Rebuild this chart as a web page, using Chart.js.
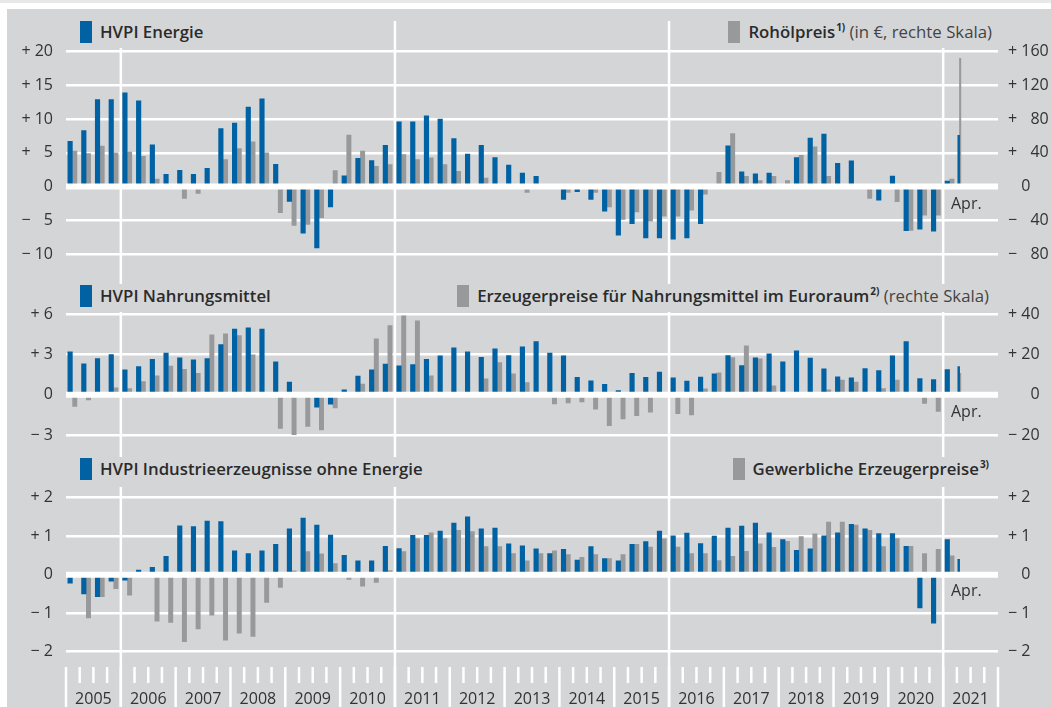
<!DOCTYPE html>
<html lang="de">
<head>
<meta charset="utf-8">
<title>HVPI und Erzeugerpreise</title>
<script src="https://cdn.jsdelivr.net/npm/chart.js@4.4.1/dist/chart.umd.min.js"></script>
<style>
  body { margin: 0; width: 1051px; height: 707px; overflow: hidden; background: #fff; font-family: "Open Sans", sans-serif; color: #333; }
  #strip { position: absolute; left: 0; top: 0; width: 1051px; height: 3px; background: #e8e8e9; }
  #panel { position: absolute; left: 7px; top: 9px; width: 1044px; height: 698px; background: #d4d5d7; }
  canvas { position: absolute; left: 0; }
  .leg { position: absolute; display: flex; align-items: flex-start; background: #d4d5d7; font-size: 16.8px; line-height: 22px; white-space: nowrap; padding: 1px 2px 0 2px; box-sizing: border-box; }
  .box { display: inline-block; width: 12px; height: 22px; margin-right: 8px; }
  .blue { background: #0061a3; }
  .gray { background: #98999b; }
  .name { font-weight: 600; color: #2b2b2b; }
  .note { color: #444; }
  sup { font-size: 10px; font-weight: 700; vertical-align: top; line-height: 10px; position: relative; top: 1px; margin-left: 1px; }
  .apr { position: absolute; left: 951px; font-size: 16px; line-height: 20px; color: #333; }
</style>
</head>
<body>
<div id="strip"></div>
<div id="panel"></div>

<canvas id="canvas_energie" width="1051" height="249" style="top:21px"></canvas>
<canvas id="canvas_nahrung" width="1051" height="180" style="top:270px"></canvas>
<canvas id="canvas_industrie" width="1051" height="257" style="top:450px"></canvas>

<div class="leg" style="left:78px; top:20px; height:28px"><span class="box blue"></span><span class="name">HVPI Energie</span></div>
<div class="leg" style="right:57px; top:20px; height:28px"><span class="box gray"></span><span class="name">Rohölpreis<sup>1)</sup></span><span class="note">&nbsp;(in €, rechte Skala)</span></div>

<div class="leg" style="left:78px; top:284px; height:28px"><span class="box blue"></span><span class="name">HVPI Nahrungsmittel</span></div>
<div class="leg" style="right:60px; top:284px; height:28px"><span class="box gray"></span><span class="name">Erzeugerpreise für Nahrungsmittel im Euroraum<sup>2)</sup></span><span class="note">&nbsp;(rechte Skala)</span></div>

<div class="leg" style="left:78px; top:457px; height:30px"><span class="box blue"></span><span class="name">HVPI Industrieerzeugnisse ohne Energie</span></div>
<div class="leg" style="right:60px; top:457px; height:30px"><span class="box gray"></span><span class="name">Gewerbliche Erzeugerpreise<sup>3)</sup></span></div>

<div class="apr" style="top:193px">Apr.</div>
<div class="apr" style="top:401px">Apr.</div>
<div class="apr" style="top:580px">Apr.</div>

<script>
const BLUE = '#0061a3';
const GRAY = '#98999b';

// Jahre der x-Achse, Quartale 2005 Q1 bis 2021 Q1, dazu April 2021
const years = ['2005', '2006', '2007', '2008', '2009', '2010', '2011', '2012', '2013',
               '2014', '2015', '2016', '2017', '2018', '2019', '2020', '2021'];
const yearLineYears = ['2006', '2011', '2016', '2021'];
const APRIL_MONTH = (2021 - 2005) * 12 + 3;

// Panel 1: HVPI Energie (linke Skala), Rohölpreis in € (rechte Skala)
const hvpiEnergie = [
  6.7, 8.3, 12.9, 12.9, 13.9, 12.7, 6.2, 1.8, 2.4, 1.8, 2.7, 8.6, 9.4, 11.8, 13.0, 3.3,
  -2.2, -6.9, -9.1, -3.0, 1.6, 4.2, 3.85, 6.1, 9.6, 9.6, 10.5, 10.0, 7.1, 4.8, 6.1, 4.3,
  3.2, 2.0, 1.5, 0.3, -1.9, -0.75, -1.9, -3.65, -7.2, -5.5, -7.6, -7.6, -7.8, -7.6, -5.5, -0.3,
  6.05, 2.2, 1.9, 2.0, 0.1, 4.3, 7.2, 7.8, 3.45, 3.8, 0.3, -2.0, 1.55, -6.55, -6.3, -6.6,
  0.8
];
const rohoelpreis = [
  42, 39, 48, 40, 41, 36, 9, 0, -14, -8, 0, 32, 45, 53, 40, -31,
  -46, -45, -37, 19, 61, 42, 24, 26, 38, 32, 34, 26, 18, 1, 10, 2,
  -1, -7, -2, -2, -7, 0, -7, -24, -39, -30, -41, -35, -35, -28, -9, 17,
  63, 12, 7, 12, 7, 37, 47, 12, 0, 0, -14, 0, -18, -52, -34, -34,
  9
];
const hvpiEnergieApril = [7.6];
const rohoelpreisApril = [152];

// Panel 2: HVPI Nahrungsmittel, Erzeugerpreise Nahrungsmittel (rechte Skala)
const hvpiNahrung = [
  3.2, 2.3, 2.7, 3.0, 1.86, 2.1, 2.65, 3.1, 2.75, 2.6, 2.7, 3.75, 4.9, 5.0, 4.9, 2.45,
  0.95, 0, -0.92, -0.7, 0.37, 1.39, 1.86, 2.28, 2.16, 2.26, 2.65, 2.9, 3.5, 3.2, 2.8, 3.42,
  2.93, 3.57, 3.97, 3.1, 2.9, 1.3, 1.04, 0.77, 0.32, 1.6, 1.3, 1.7, 1.26, 1.02, 1.31, 1.56,
  2.93, 2.18, 2.75, 3.05, 2.46, 3.27, 2.73, 1.93, 1.34, 1.26, 1.96, 1.81, 2.9, 3.97, 1.21, 1.14,
  1.88
];
const erzeugerNahrung = [
  -5.8, -2.6, 0, 3.5, 3.1, 6.6, 9.4, 14.2, 12.6, 10.6, 29.8, 30.3, 29.4, 19.8, 0, -16.7,
  -19.8, -15.7, -17.5, -6.5, 0, 5.3, 27.8, 34.4, 39.2, 36.7, 9.4, 0, -0.7, -0.7, 7.9, 16,
  10.4, 6.1, 0, -4.5, -4.1, -3.6, -7.1, -15.4, -12, -10.4, -8.6, -0.7, -9.4, -10, 3, 10.9,
  18.5, 24.3, 17.9, 4.5, -0.7, -1, -0.5, 2.5, 7.3, 6.3, 0, 3.1, 7.3, 0, -4.3, -8.3,
  -0.5
];
const hvpiNahrungApril = [2.1];
const erzeugerNahrungApril = [10.6];

// Panel 3: HVPI Industrieerzeugnisse ohne Energie, gewerbliche Erzeugerpreise
const hvpiIndustrie = [
  -0.22, -0.5, -0.57, -0.17, -0.14, 0.12, 0.19, 0.48, 1.27, 1.25, 1.39, 1.38, 0.62, 0.55, 0.62, 0.79,
  1.19, 1.47, 1.29, 1.03, 0.5, 0.36, 0.36, 0.74, 0.68, 1.02, 1.02, 1.13, 1.34, 1.5, 1.19, 1.21,
  0.8, 0.75, 0.67, 0.55, 0.66, 0.38, 0.73, 0.42, 0.36, 0.79, 0.86, 1.13, 1.01, 1.08, 0.81, 1.0,
  1.21, 1.26, 1.34, 1.09, 0.91, 0.63, 0.67, 1.01, 1.09, 1.31, 1.19, 1.07, 1.07, 0.74, -0.86, -1.26,
  0.91
];
const erzeugerGewerblich = [
  0.05, -1.12, -0.57, -0.36, -0.53, -0.05, -1.21, -1.24, -1.74, -1.41, -1.05, -1.7, -1.52, -1.6, -0.72, -0.33,
  0.1, 0.6, 0.54, 0.29, -0.12, -0.3, -0.2, 0.11, 0.6, 0.94, 1.09, 0.94, 1.15, 1.12, 0.73, 0.73,
  0.55, 0.36, 0.55, 0.62, 0.52, 0.45, 0.52, 0.42, 0.52, 0.79, 0.72, 0.93, 0.72, 0.55, 0.55, 0.37,
  0.48, 0.61, 0.8, 0.71, 0.87, 0.99, 1.06, 1.37, 1.37, 1.29, 1.15, 0.73, 0.94, 0.74, 0.55, 0.66,
  0.49
];
const hvpiIndustrieApril = [0.4];

Chart.defaults.font.family = "'Open Sans', sans-serif";
Chart.defaults.font.size = 16;
Chart.defaults.color = '#333';

const FS = '\u2007';
const MINUS = '\u2212';

function signed(v, digits) {
  return (v > 0 ? '+' : MINUS) + ' ' + String(Math.abs(v)).padStart(digits, FS);
}

function quarterBars(values, shift, color, thickness, axis) {
  return {
    data: values.map((v, i) => ({ x: i + shift, y: v })),
    backgroundColor: color,
    barThickness: thickness,
    grouped: false,
    yAxisID: axis,
  };
}

function aprilBars(values, shift, color, thickness, axis) {
  return {
    data: values.map(v => ({ x: (APRIL_MONTH + shift) / 3, y: v })),
    backgroundColor: color,
    barThickness: thickness,
    grouped: false,
    yAxisID: axis,
  };
}

const yearLines = {
  id: 'yearLines',
  beforeDatasetsDraw(chart) {
    const ctx = chart.ctx;
    const x = chart.scales.x;
    ctx.save();
    ctx.strokeStyle = '#fff';
    ctx.lineWidth = 2.5;
    yearLineYears.forEach(y => {
      const px = x.getPixelForValue(4 * years.indexOf(y));
      ctx.beginPath();
      ctx.moveTo(px, 0);
      ctx.lineTo(px, chart.height);
      ctx.stroke();
    });
    ctx.restore();
  }
};

const zeroLine = {
  id: 'zeroLine',
  afterDatasetsDraw(chart) {
    const ctx = chart.ctx;
    const area = chart.chartArea;
    const py = chart.scales.y.getPixelForValue(0);
    ctx.save();
    ctx.strokeStyle = '#fff';
    ctx.lineWidth = 6;
    ctx.beginPath();
    ctx.moveTo(area.left, py);
    ctx.lineTo(area.right, py);
    ctx.stroke();
    ctx.restore();
  }
};

const quarterTicks = {
  id: 'quarterTicks',
  afterDraw(chart) {
    const ctx = chart.ctx;
    const x = chart.scales.x;
    const top = chart.height - 40;
    ctx.save();
    ctx.strokeStyle = '#fff';
    ctx.lineWidth = 2.5;
    for (let q = 0; q <= years.length * 4; q++) {
      const px = x.getPixelForValue(q);
      ctx.beginPath();
      ctx.moveTo(px, top);
      ctx.lineTo(px, q % 4 === 0 ? chart.height : top + 16);
      ctx.stroke();
    }
    ctx.restore();
  }
};

function xScale(show) {
  return {
    type: 'linear',
    min: 0,
    max: years.length * 4,
    offset: false,
    display: show,
    grid: { display: false, drawTicks: false },
    border: { display: false },
    afterBuildTicks: axis => { axis.ticks = years.map((y, i) => ({ value: 4 * i + 2 })); },
    afterFit: axis => { axis.height = show ? 55.3 : 0; },
    ticks: {
      autoSkip: false,
      maxRotation: 0,
      minRotation: 0,
      padding: 37.7,
      callback: (value, index) => years[index],
    },
  };
}

// feste Achsbreiten, damit alle drei Teile dieselbe Zeichenfläche haben
function fixWidth(width) {
  return axis => {
    axis.width = width;
    axis.paddingTop = 0;
    axis.paddingBottom = 0;
  };
}

function leftScale(min, max, step, fmt) {
  return {
    position: 'left',
    min: min,
    max: max,
    grid: { color: '#fff', lineWidth: 2.5, drawTicks: false },
    border: { display: false },
    afterFit: fixWidth(66),
    ticks: { stepSize: step, padding: 13, callback: fmt },
  };
}

function rightScale(min, max, step, fmt) {
  return {
    position: 'right',
    min: min,
    max: max,
    grid: { display: false, drawTicks: false },
    border: { display: false },
    afterFit: fixWidth(53),
    ticks: { stepSize: step, padding: 10, crossAlign: 'near', callback: fmt },
  };
}

function panelChart(canvasId, datasets, scales, padding, plugins) {
  return new Chart(document.getElementById(canvasId), {
    type: 'bar',
    data: { datasets: datasets },
    options: {
      responsive: false,
      animation: false,
      layout: { padding: padding },
      plugins: { legend: { display: false }, tooltip: { enabled: false } },
      scales: scales,
    },
    plugins: plugins,
  });
}

panelChart('canvas_energie', [
    quarterBars(hvpiEnergie, 0.3, BLUE, 4.5, 'y'),
    quarterBars(rohoelpreis, 0.64, GRAY, 4.3, 'y1'),
    aprilBars(hvpiEnergieApril, 0.4, BLUE, 1.8, 'y'),
    aprilBars(rohoelpreisApril, 0.72, GRAY, 1.4, 'y1'),
  ], {
    x: xScale(false),
    y: leftScale(-10, 20, 5, v => v === 0 ? '0' : signed(v, 2)),
    y1: rightScale(-80, 160, 40, v => v === 0 ? FS + ' 0' : signed(v, 3)),
  },
  { top: 30.7, bottom: 16, left: 0, right: 0 },
  [yearLines, zeroLine]
);

panelChart('canvas_nahrung', [
    quarterBars(hvpiNahrung, 0.3, BLUE, 4.5, 'y'),
    quarterBars(erzeugerNahrung, 0.64, GRAY, 4.3, 'y1'),
    aprilBars(hvpiNahrungApril, 0.4, BLUE, 1.8, 'y'),
    aprilBars(erzeugerNahrungApril, 0.72, GRAY, 1.4, 'y1'),
  ], {
    x: xScale(false),
    y: leftScale(-3, 6, 3, v => v === 0 ? '0' : signed(v, 1)),
    y1: rightScale(-20, 40, 20, v => v === 0 ? FS + ' ' + FS + '0' : signed(v, 2)),
  },
  { top: 44.3, bottom: 15, left: 0, right: 0 },
  [yearLines, zeroLine]
);

panelChart('canvas_industrie', [
    quarterBars(hvpiIndustrie, 0.3, BLUE, 4.5, 'y'),
    quarterBars(erzeugerGewerblich, 0.64, GRAY, 4.3, 'y'),
    aprilBars(hvpiIndustrieApril, 0.4, BLUE, 1.8, 'y'),
  ], {
    x: xScale(true),
    y: leftScale(-2, 2, 1, v => v === 0 ? '0' : signed(v, 1)),
    y1: rightScale(-2, 2, 1, v => v === 0 ? FS + ' 0' : signed(v, 1)),
  },
  { top: 47.7, bottom: 0, left: 0, right: 0 },
  [yearLines, zeroLine, quarterTicks]
);
</script>
</body>
</html>
